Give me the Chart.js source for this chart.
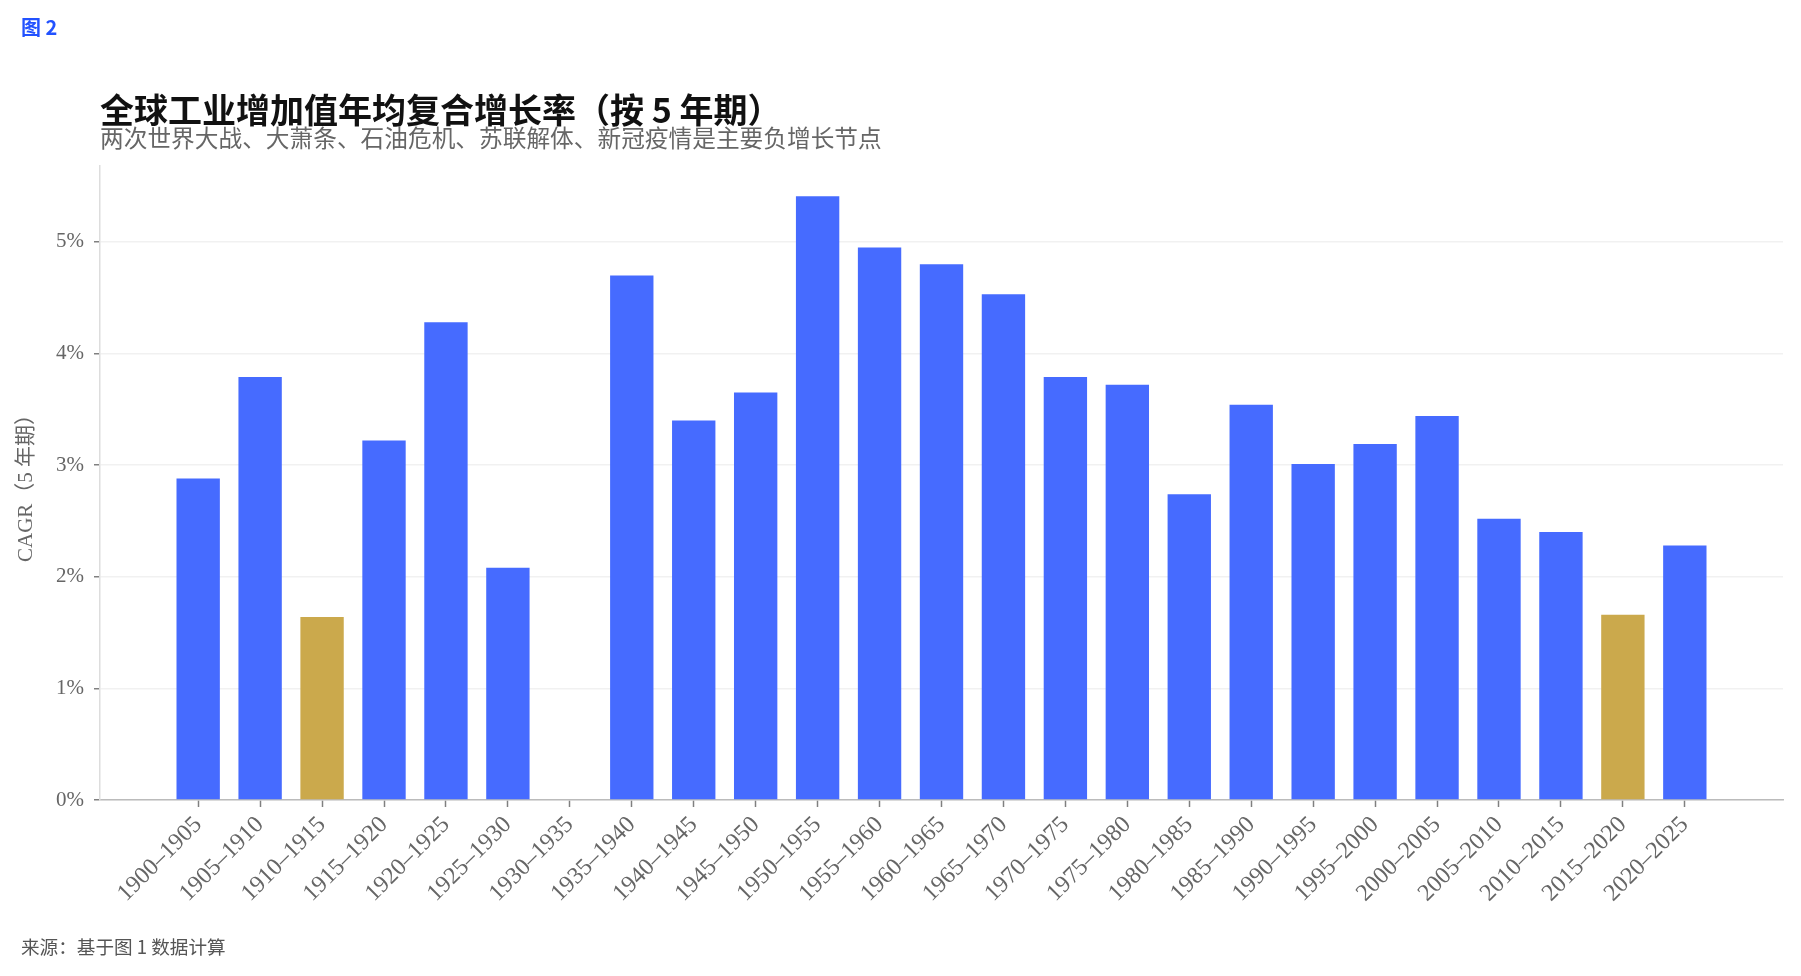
<!DOCTYPE html>
<html>
<head>
<meta charset="utf-8">
<script src="https://cdn.jsdelivr.net/npm/chart.js@4.4.1/dist/chart.umd.min.js"></script>
<style>
  html, body { margin: 0; padding: 0; background: #ffffff; }
  #wrap { position: relative; width: 1801px; height: 976px; overflow: hidden; }
  #c { position: absolute; left: 0; top: 0; }
  .t { position: absolute; white-space: nowrap; line-height: 1; font-family: "Noto Sans CJK SC", "Liberation Serif", sans-serif; }
  #fig { left: 21px; top: 17px; font-size: 20px; font-weight: 700; color: #2252ff; }
  #title { left: 100px; top: 92px; font-size: 34px; font-weight: 700; color: #111111; }
  #sub { left: 100px; top: 126px; font-size: 23.7px; color: #666666; }
  #src { left: 21px; top: 937px; font-size: 18.6px; color: #555555; }
</style>
</head>
<body>
<div id="wrap">
  <canvas id="c" width="1801" height="976"></canvas>
  <div class="t" id="fig">图 2</div>
  <div class="t" id="title">全球工业增加值年均复合增长率（按 5 年期）</div>
  <div class="t" id="sub">两次世界大战、大萧条、石油危机、苏联解体、新冠疫情是主要负增长节点</div>
  <div class="t" id="src">来源：基于图 1 数据计算</div>
</div>
<script>
const categories = [
  "1900–1905","1905–1910","1910–1915","1915–1920","1920–1925","1925–1930",
  "1930–1935","1935–1940","1940–1945","1945–1950","1950–1955","1955–1960",
  "1960–1965","1965–1970","1970–1975","1975–1980","1980–1985","1985–1990",
  "1990–1995","1995–2000","2000–2005","2005–2010","2010–2015","2015–2020",
  "2020–2025"
];
const cagrValues = [
  2.88, 3.79, 1.64, 3.22, 4.28, 2.08,
  null, 4.70, 3.40, 3.65, 5.41, 4.95,
  4.80, 4.53, 3.79, 3.72, 2.74, 3.54,
  3.01, 3.19, 3.44, 2.52, 2.40, 1.66,
  2.28
];
const highlighted = ["1910–1915", "2015–2020"];
const yTickValues = [0, 1, 2, 3, 4, 5];

const BLUE = "#466bff";
const GOLD = "#cba94c";
const SERIF = "'Liberation Serif', 'Noto Sans CJK SC', serif";

const points = categories.map((c, i) => ({ x: i, y: cagrValues[i] }));
const colors = categories.map(c => highlighted.includes(c) ? GOLD : BLUE);

new Chart(document.getElementById("c"), {
  type: "bar",
  data: {
    datasets: [{
      data: points,
      backgroundColor: colors,
      borderWidth: 0,
      barPercentage: 0.7,
      categoryPercentage: 1.0
    }]
  },
  options: {
    responsive: false,
    animation: false,
    events: [],
    layout: { padding: { left: 0, top: 166, right: 18, bottom: 0 } },
    plugins: { legend: { display: false }, tooltip: { enabled: false }, title: { display: false } },
    scales: {
      x: {
        type: "linear",
        offset: false,
        min: -1.585,
        max: categories.length - 1 + 1.585,
        afterBuildTicks: (scale) => { scale.ticks = categories.map((_, i) => ({ value: i })); },
        afterFit: (scale) => { scale.height = 176; },
        grid: { offset: false, drawOnChartArea: false, drawTicks: true, tickLength: 7, tickColor: "#808080", tickWidth: 1.5 },
        border: { display: true, color: "#bbbbbb", width: 1.5 },
        ticks: {
          autoSkip: false,
          maxRotation: 45,
          minRotation: 45,
          padding: 4,
          color: "#666666",
          font: { family: SERIF, size: 24 },
          callback: (v) => categories[v] !== undefined ? categories[v] : ""
        }
      },
      y: {
        type: "linear",
        min: 0,
        max: 5.68,
        z: 1,
        afterBuildTicks: (scale) => { scale.ticks = yTickValues.map(v => ({ value: v })); },
        afterFit: (scale) => { scale.width = 100; },
        grid: { color: "rgba(225,225,225,0.45)", lineWidth: 1.5, drawTicks: true, tickLength: 6, tickColor: "#808080", tickWidth: 1.5 },
        border: { display: true, color: "#dddddd", width: 1.5 },
        ticks: {
          padding: 10,
          color: "#666666",
          font: { family: SERIF, size: 21 },
          callback: (v) => v + "%"
        },
        title: {
          display: true,
          text: "CAGR（5 年期）",
          color: "#666666",
          font: { family: SERIF, size: 21 },
          padding: { top: 14, bottom: 0 }
        }
      }
    }
  }
});
</script>
</body>
</html>
